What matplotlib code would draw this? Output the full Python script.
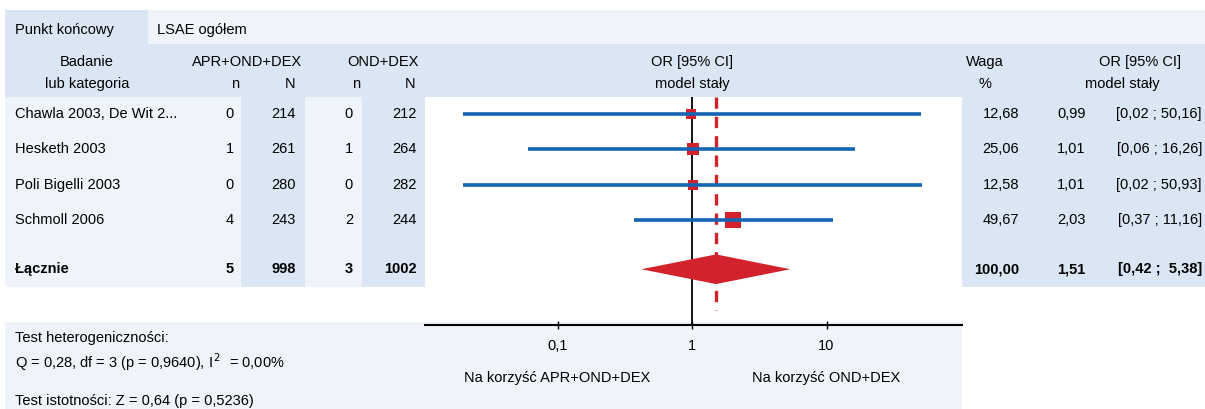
import numpy as np
import matplotlib
matplotlib.use('Agg')
import matplotlib.pyplot as plt
from matplotlib.patches import Rectangle, Polygon
from matplotlib.transforms import blended_transform_factory

plt.rcParams['font.family'] = ['Liberation Sans', 'DejaVu Sans']
plt.rcParams['font.size'] = 10.5

# --- Data ---
studies = ['Chawla 2003, De Wit 2...', 'Hesketh 2003', 'Poli Bigelli 2003', 'Schmoll 2006']
n_exp = [0, 1, 0, 4]
N_exp = [214, 261, 280, 243]
n_ctl = [0, 1, 0, 2]
N_ctl = [212, 264, 282, 244]
weights = [12.68, 25.06, 12.58, 49.67]
odds = [0.99, 1.01, 1.01, 2.03]
ci_low = [0.02, 0.06, 0.02, 0.37]
ci_high = [50.16, 16.26, 50.93, 11.16]

total_label = 'Łącznie'
total_counts = [5, 998, 3, 1002]
total_weight = 100.00
total_or = 1.51
total_low = 0.42
total_high = 5.38

x_ticks = [0.1, 1, 10]
x_ticklabels = ['0,1', '1', '10']

# --- Colours ---
blue_bg = '#dae6f3'
light_bg = '#eff4fa'
ci_blue = '#1565b4'
red = '#d3222b'


def pl(v):
    return f'{v:.2f}'.replace('.', ',')


W, H = 1205, 409
fig = plt.figure(figsize=(W / 100, H / 100), dpi=100)

# background axes in pixel coordinates
bg = fig.add_axes([0, 0, 1, 1])
bg.set_xlim(0, W)
bg.set_ylim(H, 0)
bg.axis('off')


def box(x0, y0, x1, y1, c):
    bg.add_patch(Rectangle((x0, y0), x1 - x0, y1 - y0, color=c, lw=0, zorder=0))


box(5, 10, 148, 44, blue_bg)
box(148, 10, W, 44, light_bg)
box(5, 44, W, 97, blue_bg)
box(5, 97, 425, 287, light_bg)
box(241, 97, 305, 287, blue_bg)
box(362, 97, 425, 287, blue_bg)
box(962, 97, W, 287, blue_bg)
box(5, 322, 962, H, light_bg)

# forest axes
ax = fig.add_axes([425 / W, (H - 325) / H, (962 - 425) / W, (325 - 97) / H])
ax.set_facecolor('none')
ax.set_xscale('log')
ax.set_xlim(10 ** -1.985, 10 ** 2.007)
ax.set_ylim(5.98, -0.48)

rows = np.arange(len(studies))
total_y = 4.4

# square size grows with study weight
for yi, o, w in zip(rows, odds, weights):
    ax.plot(o, yi, 's', ms=(2.9 + 2 * np.sqrt(w)) * 0.72, color=red, mew=0, zorder=3)
ax.hlines(rows, ci_low, ci_high, color=ci_blue, lw=2.6, zorder=4)

dh = 0.42
ax.add_patch(Polygon([(total_low, total_y), (total_or, total_y - dh),
                      (total_high, total_y), (total_or, total_y + dh)],
                     closed=True, color=red, lw=0, zorder=3))

ax.axvline(1, color='black', lw=1.3, zorder=2)
ax.vlines(total_or, -0.48, 5.55, color=red, lw=2.4,
          linestyles=(0, (3.4, 2.4)), zorder=2)

for s in ['top', 'left', 'right']:
    ax.spines[s].set_visible(False)
ax.spines['bottom'].set_linewidth(1.5)
ax.set_yticks([])
ax.set_xticks(x_ticks)
ax.set_xticklabels(x_ticklabels)
ax.minorticks_off()
ax.tick_params(axis='x', direction='inout', length=6, width=1, pad=7)

# --- Texts ---
bg.text(15, 30, 'Punkt końcowy', va='center')
bg.text(157, 30, 'LSAE ogółem', va='center')

bg.text(87, 62, 'Badanie', ha='center', va='center')
bg.text(87, 84, 'lub kategoria', ha='center', va='center')
bg.text(247, 62, 'APR+OND+DEX', ha='center', va='center')
bg.text(383, 62, 'OND+DEX', ha='center', va='center')
for x, t in [(239, 'n'), (295, 'N'), (360, 'n'), (415, 'N')]:
    bg.text(x, 84, t, ha='right', va='center')
bg.text(692, 62, 'OR [95% CI]', ha='center', va='center')
bg.text(692, 84, 'model stały', ha='center', va='center')
bg.text(985, 62, 'Waga', ha='center', va='center')
bg.text(985, 84, '%', ha='center', va='center')
bg.text(1140, 62, 'OR [95% CI]', ha='center', va='center')
bg.text(1122, 84, 'model stały', ha='center', va='center')

tr = blended_transform_factory(bg.transData, ax.transData)
for i, name in enumerate(studies):
    bg.text(15, i, name, transform=tr, va='center')
    bg.text(234, i, str(n_exp[i]), transform=tr, ha='right', va='center')
    bg.text(296, i, str(N_exp[i]), transform=tr, ha='right', va='center')
    bg.text(353, i, str(n_ctl[i]), transform=tr, ha='right', va='center')
    bg.text(417, i, str(N_ctl[i]), transform=tr, ha='right', va='center')
    bg.text(1019, i, pl(weights[i]), transform=tr, ha='right', va='center')
    bg.text(1057, i, pl(odds[i]), transform=tr, va='center')
    bg.text(1202, i, f'[{pl(ci_low[i])} ; {pl(ci_high[i])}]', transform=tr,
            ha='right', va='center')

bg.text(15, total_y, total_label, transform=tr, va='center', weight='bold')
for x, v in zip([234, 296, 353, 417], total_counts):
    bg.text(x, total_y, str(v), transform=tr, ha='right', va='center', weight='bold')
bg.text(1019, total_y, pl(total_weight), transform=tr, ha='right', va='center', weight='bold')
bg.text(1057, total_y, pl(total_or), transform=tr, va='center', weight='bold')
bg.text(1202, total_y, f'[{pl(total_low)} ;  {pl(total_high)}]', transform=tr,
        ha='right', va='center', weight='bold')

bg.text(15, 338, 'Test heterogeniczności:', va='center')
bg.text(15, 362, 'Q = 0,28, df = 3 (p = 0,9640), I$^{\\,2}$  = 0,00%', va='center')
bg.text(15, 401, 'Test istotności: Z = 0,64 (p = 0,5236)', va='center')

tr2 = blended_transform_factory(ax.transData, bg.transData)
bg.text(0.1, 378, 'Na korzyść APR+OND+DEX', transform=tr2, ha='center', va='center')
bg.text(10, 378, 'Na korzyść OND+DEX', transform=tr2, ha='center', va='center')

fig.savefig('out.png', dpi=100)
